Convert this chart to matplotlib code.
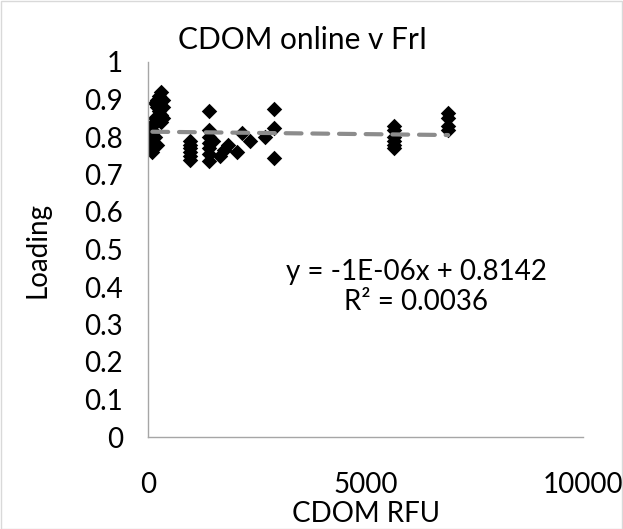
import matplotlib
matplotlib.use("Agg")
import matplotlib.pyplot as plt
from matplotlib.patches import Rectangle

plt.rcParams['font.family'] = ['Lato', 'DejaVu Sans']

cdom_rfu = [100, 100, 100, 100, 100, 100, 100, 100,
            150, 150, 150, 150,
            200, 200, 200,
            250, 250, 250,
            300, 300, 300,
            350, 350, 350,
            970, 970, 970, 970, 970, 970,
            1400, 1400, 1400, 1400, 1400, 1400, 1400,
            1500, 1650, 1750, 1850, 2050, 2150, 2350, 2700,
            2900, 2900, 2900,
            5650, 5650, 5650, 5650, 5650, 5650,
            6900, 6900, 6900, 6900]
loading = [0.76, 0.77, 0.78, 0.79, 0.80, 0.81, 0.82, 0.83,
           0.80, 0.84, 0.85, 0.89,
           0.88, 0.90, 0.78,
           0.87, 0.89, 0.91,
           0.92, 0.86, 0.84,
           0.85, 0.88, 0.90,
           0.74, 0.75, 0.76, 0.77, 0.78, 0.79,
           0.87, 0.82, 0.80, 0.785, 0.77, 0.755, 0.735,
           0.79, 0.75, 0.765, 0.78, 0.76, 0.81, 0.79, 0.80,
           0.875, 0.825, 0.745,
           0.83, 0.82, 0.80, 0.79, 0.78, 0.77,
           0.865, 0.85, 0.83, 0.82]

trend_slope = -1.3e-06
trend_intercept = 0.8142
equation_text = "y = -1E-06x + 0.8142"
r2_text = "R² = 0.0036"

x_ticks = [0, 5000, 10000]
y_ticks = [0, 0.1, 0.2, 0.3, 0.4, 0.5, 0.6, 0.7, 0.8, 0.9, 1]
y_tick_labels = ["0", "0.1", "0.2", "0.3", "0.4", "0.5", "0.6", "0.7", "0.8", "0.9", "1"]

W, H = 623, 529
fig = plt.figure(figsize=(W / 100, H / 100), dpi=100)
ax = fig.add_axes([148 / W, 1 - 437 / H, (583 - 148) / W, (437 - 62) / H])

# figure border
fig.patches.append(Rectangle((0.5 / W, 0.5 / H), 1 - 1.5 / W, 1 - 1.5 / H,
                             transform=fig.transFigure, fill=False,
                             edgecolor='#d9d9d9', linewidth=1))

xmin, xmax = min(cdom_rfu), max(cdom_rfu)
ax.plot([xmin, xmax], [trend_intercept + trend_slope * xmin, trend_intercept + trend_slope * xmax],
        color='#8c8c8c', linewidth=3, linestyle=(0, (3.8, 2.6)), dash_capstyle='round', zorder=3)
ax.scatter(cdom_rfu, loading, marker='D', s=62, color='black', zorder=2, linewidths=0)

ax.set_xlim(0, 10000)
ax.set_ylim(0, 1)
ax.set_xticks(x_ticks)
ax.set_xticklabels([str(t) for t in x_ticks])
ax.set_yticks(y_ticks)
ax.set_yticklabels(y_tick_labels)
ax.tick_params(axis='both', length=0, labelsize=20, colors='black')
ax.tick_params(axis='x', pad=25)
ax.tick_params(axis='y', pad=18)
for s in ['top', 'right']:
    ax.spines[s].set_visible(False)
for s in ['left', 'bottom']:
    ax.spines[s].set_color('#a6a6a6')
    ax.spines[s].set_linewidth(1)

ax.set_xlabel("CDOM RFU", fontsize=20)
ax.xaxis.set_label_coords(0.5, -0.17)
ax.set_ylabel("Loading", fontsize=20)
ax.yaxis.set_label_coords(-0.225, 0.5)

fig.text(303 / W, 1 - 40 / H, "CDOM online v FrI", fontsize=21.5, ha='center', va='center')
fig.text(416 / W, 1 - 272 / H, equation_text, fontsize=20, ha='center', va='center')
fig.text(416 / W, 1 - 302 / H, r2_text, fontsize=20, ha='center', va='center')

fig.savefig("out.png", dpi=100)
